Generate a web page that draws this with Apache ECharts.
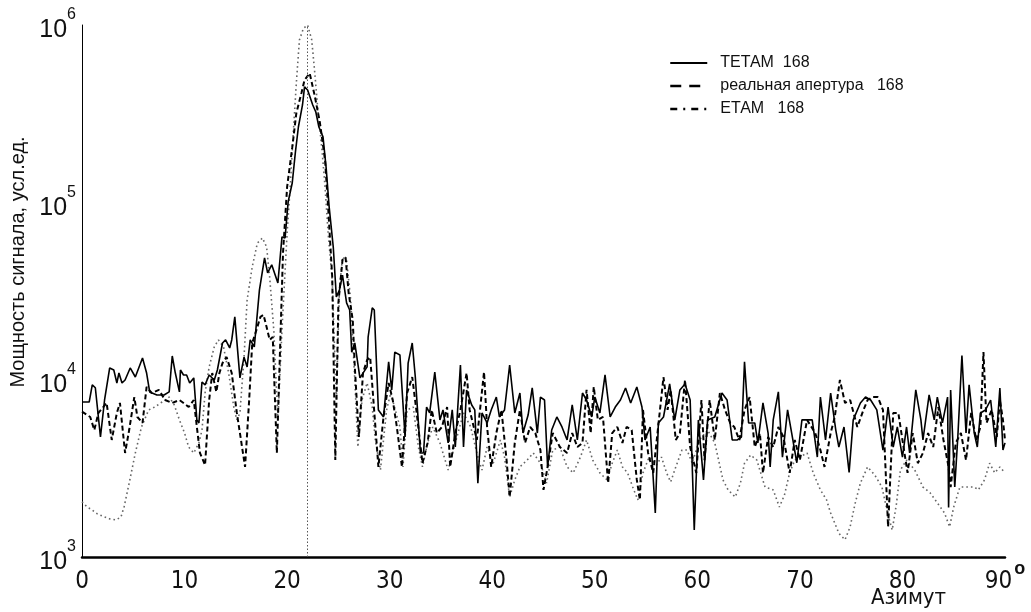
<!DOCTYPE html>
<html><head><meta charset="utf-8">
<script src="https://cdn.jsdelivr.net/npm/echarts@6/dist/echarts.min.js"></script>
<style>html,body{margin:0;padding:0;background:#fff}#c{width:1031px;height:612px}</style>
</head><body><div id="c"></div>
<script>
const seriesNames = ['ТЕТАМ  168', 'реальная апертура   168', 'ЕТАМ   168'];
const xTickValues = [0, 10, 20, 30, 40, 50, 60, 70, 80, 90];
const yTickValues = [1000, 10000, 100000, 1000000];
const peakAzimuth = 22;
const xAxisTitle = 'Азимут';
const yAxisTitle = 'Мощность сигнала, усл.ед.';
const degreeMark = 'o';

// [azimuth, power]
const tetam = [[0,7480],[0.7,7480],[1.0,9340],[1.3,9000],[1.8,4750],[2.2,7680],[2.7,11640],[3.1,11340],[3.4,9580],[3.6,10900],[3.9,9580],[4.2,9960],[4.7,11640],[5.2,10350],[5.9,13250],[6.3,10900],[6.6,8530],[7.3,8200],[8.0,8200],[8.5,8530],[8.8,13600],[9.1,10900],[9.5,8530],[9.6,11340],[9.9,10630],[10.2,10630],[10.5,9580],[10.9,10230],[11.2,5930],[11.4,5700],[11.7,9700],[12.0,9340],[12.4,10630],[12.9,9960],[13.2,11340],[13.7,16100],[14.0,16750],[14.4,15100],[14.6,16750],[14.9,22600],[15.4,10230],[15.8,13400],[16.1,11800],[16.4,16750],[16.8,15300],[17.3,32000],[17.8,48600],[18.1,40000],[18.5,44400],[19.1,35100],[19.5,63800],[19.8,63000],[20.1,100500],[20.5,128600],[20.8,190000],[21.1,266000],[21.5,354000],[21.7,448000],[22.0,430000],[22.5,354000],[22.8,323000],[23.1,266000],[23.5,234000],[23.8,158000],[24.1,94200],[24.5,56000],[24.8,29300],[25.1,32000],[25.4,38900],[25.8,27100],[26.1,24700],[26.3,14300],[26.6,16100],[27.1,10230],[27.8,11800],[27.9,17400],[28.3,25400],[28.5,24700],[28.9,6750],[29.4,6160],[29.9,12600],[30.2,8750],[30.5,14300],[31.0,13780],[31.5,4750],[31.8,12400],[32.2,16100],[32.5,10350],[33.0,3860],[33.3,3860],[33.6,7010],[33.9,6490],[34.4,11050],[34.9,5930],[35.2,6750],[35.7,4400],[36.1,6750],[36.4,4170],[36.9,12100],[37.2,4170],[37.5,8750],[38.0,7200],[38.3,6750],[38.6,2610],[39.0,6490],[39.5,5700],[39.9,6750],[40.4,7980],[40.7,6160],[41.2,6750],[41.7,12100],[42.2,6490],[42.7,8410],[43.0,5000],[43.5,6320],[43.9,8980],[44.4,5000],[44.7,7980],[45.1,7680],[45.4,3220],[45.8,5200],[46.3,6160],[46.8,5410],[47.3,4570],[47.8,7200],[48.3,4570],[48.8,8410],[49.2,7680],[49.7,6160],[50.0,7980],[50.5,6490],[51.0,10630],[51.5,6160],[52.0,7010],[52.5,7680],[53.0,8980],[53.5,7390],[54.1,9100],[54.6,7010],[54.9,4570],[55.4,5410],[55.9,1770],[56.2,5700],[56.7,6160],[57.3,9460],[57.8,5930],[58.3,8750],[58.8,9460],[59.3,7680],[59.7,1420],[60.1,5930],[60.6,2720],[61.0,5930],[61.7,6160],[62.4,8410],[62.9,7680],[63.4,4570],[63.9,4570],[64.3,4750],[64.6,12600],[65.0,5700],[65.6,5700],[65.9,4400],[66.4,7390],[66.9,5000],[67.1,3220],[67.4,5930],[67.9,8530],[68.3,3660],[68.8,6750],[69.2,5000],[69.7,3400],[70.2,5930],[70.7,5930],[71.2,5930],[71.7,3660],[72.0,7980],[72.5,4570],[73.0,8410],[73.5,5200],[73.8,4170],[74.3,5410],[74.8,3000],[75.2,5930],[75.9,7390],[76.4,7980],[76.9,7680],[77.5,6750],[78.1,4010],[78.6,7010],[79.1,4170],[79.5,5410],[80.0,3660],[80.4,5410],[80.7,3860],[81.3,8750],[81.8,5930],[82.0,4570],[82.6,8200],[83.1,5930],[83.4,7980],[83.9,5700],[84.4,7980],[84.5,1900],[84.7,8750],[85.1,2480],[85.4,4750],[85.8,13700],[86.2,5000],[86.5,9340],[87.0,5000],[87.3,4170],[87.6,6490],[88.1,6750],[88.6,7680],[89.1,4170],[89.5,8980],[89.8,4010],[90.0,4400]];

const aperture = [[0,6600],[0.8,6160],[1.2,5200],[1.6,6490],[2.4,7390],[2.9,4570],[3.4,6490],[3.7,7390],[4.2,3860],[4.6,5200],[5.1,7980],[5.4,6160],[5.9,5700],[6.3,9100],[6.8,8410],[7.5,8750],[8.1,7680],[8.8,7390],[9.5,7680],[9.9,7390],[10.4,7010],[10.9,7680],[11.2,5410],[11.5,3860],[12.0,3300],[12.4,7680],[12.7,10900],[13.1,8530],[13.4,10900],[13.7,12400],[14.1,13400],[14.6,10900],[15.1,6490],[15.4,5000],[15.9,3220],[16.3,7680],[16.6,16100],[16.9,18200],[17.4,22600],[17.7,23200],[18.0,19800],[18.3,16750],[18.6,17400],[19.0,3860],[19.3,14100],[19.6,51800],[20.0,122000],[20.5,204000],[20.9,318000],[21.4,414000],[21.7,490000],[22.2,535000],[22.7,397000],[23.2,281000],[23.7,173000],[24.0,94200],[24.4,37800],[24.7,3520],[25.0,27100],[25.4,47300],[25.7,49000],[26.0,30800],[26.4,21700],[26.6,11800],[27.0,4750],[27.4,10900],[27.8,12900],[28.1,13400],[28.9,3220],[29.4,6160],[29.9,9580],[30.3,7680],[30.7,5410],[31.2,3220],[31.7,8410],[32.2,10350],[32.6,6750],[33.2,3380],[33.7,4400],[34.1,6750],[34.6,5000],[35.1,5410],[35.6,7010],[35.9,3220],[36.4,5000],[36.9,6750],[37.5,10900],[37.8,6750],[38.5,4570],[39.2,11050],[39.5,5410],[39.9,3220],[40.4,5000],[40.9,6750],[41.4,3520],[41.7,2180],[42.2,4400],[42.7,6750],[43.2,4400],[43.7,5410],[44.2,5000],[44.7,4010],[45.0,2390],[45.4,3220],[45.9,5000],[46.6,4170],[47.3,3860],[47.8,5000],[48.3,4170],[48.8,4400],[49.2,8750],[49.6,5000],[49.9,9100],[50.3,5930],[50.8,6160],[51.3,2610],[51.7,5000],[52.2,5410],[52.7,4400],[53.1,5410],[53.6,5200],[54.1,2720],[54.4,2100],[54.7,6750],[55.2,3860],[55.7,2980],[56.7,10350],[57.1,6750],[57.4,8750],[57.9,4570],[58.3,5000],[58.8,9960],[59.3,4170],[59.9,2980],[60.4,7680],[60.7,3520],[61.2,7680],[61.7,4570],[62.2,8410],[62.7,6750],[63.2,5700],[63.6,5410],[64.1,4570],[64.6,6750],[65.1,7980],[65.6,4170],[66.1,5000],[66.4,2980],[66.9,4750],[67.4,4170],[67.9,5410],[68.4,4750],[69.0,2980],[69.5,4570],[70.0,3520],[70.7,5930],[71.5,5000],[72.0,4010],[72.4,3220],[73.0,5000],[73.4,6160],[73.9,9960],[74.4,7390],[74.9,7680],[75.6,5410],[76.2,6750],[76.6,7680],[77.1,7980],[77.6,7980],[78.1,6750],[78.6,1480],[79.1,6490],[79.6,6490],[80.0,4570],[80.5,2980],[81.0,5000],[81.5,3380],[82.0,3860],[82.5,5000],[83.0,4170],[83.5,7010],[84.0,4570],[84.5,3220],[84.7,2480],[85.2,4400],[85.7,5000],[86.2,3520],[86.7,6490],[87.2,4570],[87.6,5410],[87.9,14300],[88.2,5700],[88.7,6750],[89.2,4750],[89.5,7680],[89.8,5930],[90.0,4570]];

const etam = [[0,2050],[0.5,1915],[1.0,1840],[1.5,1750],[2.0,1700],[2.7,1640],[3.3,1617],[3.8,1680],[4.1,1915],[4.6,2610],[5.2,3860],[5.8,5410],[6.5,6750],[7.1,7010],[7.8,7480],[8.5,7980],[9.0,7200],[9.5,5930],[10.0,5000],[10.4,4170],[10.9,3860],[11.4,4400],[11.7,5200],[12.0,8410],[12.4,11800],[12.9,15300],[13.3,16750],[13.8,15300],[14.3,10900],[14.8,7010],[15.1,5930],[15.4,6490],[15.8,13400],[16.1,28150],[16.6,43300],[17.1,58900],[17.6,63000],[18.0,56000],[18.3,37800],[18.7,19100],[19.1,5930],[19.5,19100],[20.0,67100],[20.3,122000],[20.6,246000],[20.9,471000],[21.2,824000],[21.6,960000],[22.0,1000000],[22.4,824000],[22.7,535000],[23.0,332000],[23.4,197500],[23.7,122000],[24.0,67100],[24.4,36500],[24.8,7680],[25.1,32000],[25.4,49000],[25.8,47300],[26.2,28150],[26.6,9960],[26.9,4170],[27.3,7680],[27.8,9580],[28.3,7010],[28.6,4570],[29.1,3095],[29.7,6750],[30.1,8410],[31.0,5410],[31.3,3220],[31.7,6750],[32.3,7010],[32.8,4170],[33.2,3220],[33.7,4400],[34.2,5410],[34.9,4400],[35.7,3095],[36.4,4400],[37.2,6490],[37.9,5410],[38.6,3660],[39.0,3095],[39.5,4170],[40.1,3380],[40.8,4570],[41.2,3660],[41.7,2180],[42.2,2720],[42.7,3220],[43.4,3520],[44.0,3860],[44.7,3380],[45.3,2610],[45.9,4010],[46.6,4170],[47.3,3220],[47.9,2980],[48.6,3660],[49.2,4570],[49.8,3520],[50.5,2980],[51.2,2720],[51.7,3380],[52.2,4010],[52.7,3220],[53.2,2980],[53.7,2480],[54.2,2100],[54.7,2980],[55.3,3660],[56.0,3300],[56.5,3660],[57.0,2980],[57.4,2650],[57.9,3220],[58.5,4010],[59.0,4010],[59.5,3380],[60.2,4570],[61.0,5200],[61.7,4400],[62.5,2720],[63.0,2390],[63.7,2180],[64.2,2610],[64.6,3380],[65.2,3760],[65.8,3520],[66.6,2480],[67.4,2390],[68.0,1915],[68.5,2240],[69.0,2980],[69.5,3520],[70.0,3660],[70.7,3860],[71.3,2980],[72.0,2390],[72.6,2100],[73.0,1770],[73.8,1360],[74.4,1250],[74.9,1480],[75.4,2020],[75.9,2610],[76.6,3220],[77.3,2900],[78.0,2480],[78.6,1725],[79.0,1420],[79.4,1965],[79.8,3095],[80.4,3520],[81.2,3095],[82.0,2480],[82.7,2300],[83.4,2020],[84.1,1770],[84.6,1480],[85.0,1915],[85.6,2480],[86.3,2480],[87.0,2480],[87.4,2390],[88.0,2720],[88.5,3380],[89.0,2980],[89.5,3220],[90.0,2980]];

const FONT = "'Liberation Sans', Arial, sans-serif";
const NARROW = "'Liberation Sans Narrow', 'DejaVu Sans Condensed', 'Liberation Sans', sans-serif";
const chart = echarts.init(document.getElementById('c'), null, {renderer: 'canvas'});
const hiddenSymbol = {opacity: 0, borderWidth: 0};
chart.setOption({
  animation: false,
  backgroundColor: '#fff',
  textStyle: {fontFamily: FONT},
  grid: {left: 82, right: 26, top: 25, bottom: 55},
  legend: {
    orient: 'vertical', left: 664, top: 49,
    itemWidth: 37, itemHeight: 14, itemGap: 5,
    textStyle: {fontSize: 16, lineHeight: 18, color: '#111', fontFamily: FONT, padding: [0, 0, 0, 8]},
    data: [
      {name: seriesNames[0], itemStyle: hiddenSymbol, lineStyle: {color: '#000', width: 2, type: 'solid'}},
      {name: seriesNames[1], itemStyle: hiddenSymbol, lineStyle: {color: '#000', width: 2.5, type: [11, 8]}},
      {name: seriesNames[2], itemStyle: hiddenSymbol, lineStyle: {color: '#000', width: 2.5, type: [7, 6, 2, 6]}}
    ]
  },
  xAxis: {
    type: 'value', min: 0, max: 90, interval: 10,
    axisLine: {lineStyle: {color: '#000', width: 2.5}},
    axisTick: {show: false},
    splitLine: {show: false},
    axisLabel: {
      margin: 3, fontFamily: NARROW,
      formatter: v => v === 90 ? '{b|' + v + '}{d|' + degreeMark + '}' : '{b|' + v + '}',
      rich: {
        b: {fontSize: 24, color: '#111', fontFamily: NARROW, verticalAlign: 'bottom', lineHeight: 34},
        d: {fontSize: 18, fontWeight: 'bold', color: '#111', fontFamily: FONT, verticalAlign: 'top', lineHeight: 34, padding: [0, 0, 0, 2]}
      }
    }
  },
  yAxis: {
    type: 'log', logBase: 10, min: yTickValues[0], max: yTickValues[yTickValues.length - 1],
    splitNumber: 3,
    name: yAxisTitle, nameLocation: 'middle', nameGap: 52, nameRotate: 90,
    nameTextStyle: {fontSize: 20, color: '#111', fontFamily: FONT, padding: [0, 0, 0, 58]},
    axisLine: {show: true, lineStyle: {color: '#000', width: 1}},
    axisTick: {show: false},
    splitLine: {show: false},
    axisLabel: {
      margin: 6, fontFamily: FONT,
      formatter: v => '{b|10}{s|' + Math.round(Math.log10(v)) + '}',
      rich: {
        b: {fontSize: 25, color: '#111', verticalAlign: 'bottom', lineHeight: 36},
        s: {fontSize: 16, color: '#111', verticalAlign: 'top', lineHeight: 36}
      }
    }
  },
  graphic: [
    {type: 'text', left: 871, top: 587, style: {text: xAxisTitle, fontSize: 22, fill: '#111', fontFamily: NARROW}}
  ],
  series: [
    {
      name: seriesNames[0], type: 'line', data: tetam, symbol: 'none', z: 5,
      itemStyle: {color: '#000'},
      lineStyle: {color: '#000', width: 1.6},
      markLine: {
        silent: true, symbol: 'none', label: {show: false},
        lineStyle: {color: '#555', width: 1, type: [1.5, 2]},
        data: [{xAxis: peakAzimuth}]
      }
    },
    {
      name: seriesNames[1], type: 'line', data: aperture, symbol: 'none', z: 4,
      itemStyle: {color: '#000'},
      lineStyle: {color: '#000', width: 2, type: [5, 3]}
    },
    {
      name: seriesNames[2], type: 'line', data: etam, symbol: 'none', z: 3,
      itemStyle: {color: '#666'},
      lineStyle: {color: '#666', width: 1.6, type: [1.6, 3]}
    }
  ]
});
</script>
</body></html>
